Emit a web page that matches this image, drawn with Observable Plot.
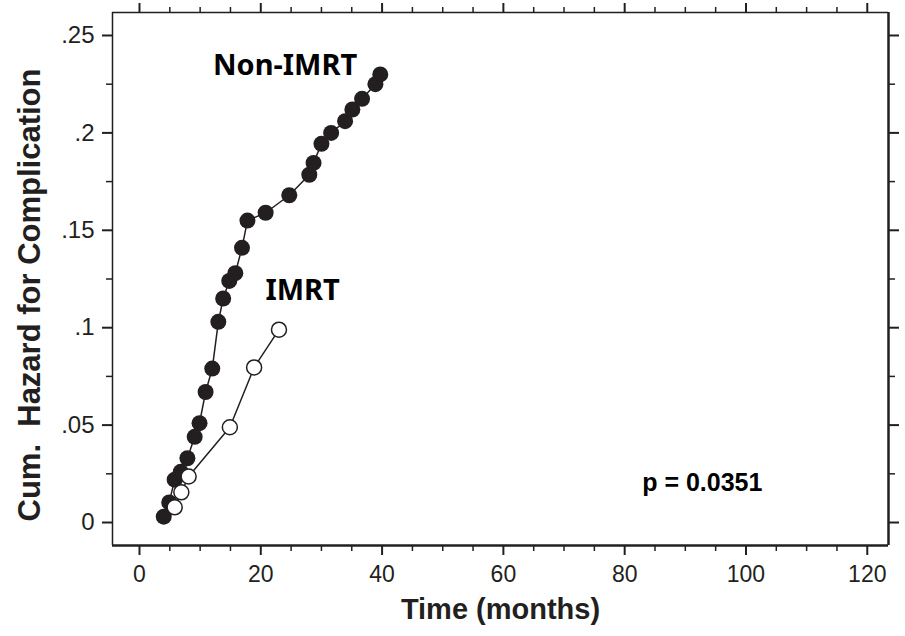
<!DOCTYPE html>
<html>
<head>
<meta charset="utf-8">
<script src="https://cdn.jsdelivr.net/npm/d3@7"></script>
<script src="https://cdn.jsdelivr.net/npm/@observablehq/plot@0.6"></script>
<style>
  body { margin: 0; background: #fff; }
  #chart svg { display: block; }
</style>
</head>
<body>
<div id="chart"></div>
<script>
// Non-IMRT group (filled circles)
const nonImrtTime   = [4.0, 4.9, 5.8, 6.8, 7.9, 9.1, 9.9, 10.9, 12.0, 13.0, 13.8, 14.8, 15.8, 16.9, 17.8, 20.8, 24.7, 28.0, 28.7, 30.0, 31.6, 33.9, 35.1, 36.7, 38.9, 39.7];
const nonImrtHazard = [0.003, 0.0103, 0.022, 0.026, 0.033, 0.044, 0.051, 0.067, 0.079, 0.103, 0.115, 0.124, 0.128, 0.141, 0.155, 0.159, 0.168, 0.1785, 0.1846, 0.1944, 0.200, 0.206, 0.212, 0.2175, 0.225, 0.230];

// IMRT group (open circles)
const imrtTime   = [5.8, 6.9, 8.1, 14.9, 18.9, 23.0];
const imrtHazard = [0.0078, 0.0155, 0.0236, 0.0489, 0.0796, 0.099];

// Axes
const xTicks = [0, 20, 40, 60, 80, 100, 120];
const xMinorTicks = [5, 10, 15, 25, 30, 35, 45, 50, 55, 65, 70, 75, 85, 90, 95, 105, 110, 115];
const yTicks = [0, 0.05, 0.1, 0.15, 0.2, 0.25];
const yTickLabels = ["0", ".05", ".1", ".15", ".2", ".25"];
const yMinorTicks = [0.025, 0.075, 0.125, 0.175, 0.225];
const xDomain = [-4.45, 123.5];
const yDomain = [-0.0118, 0.2618];

// Annotations
const annoText = ["Non-IMRT", "IMRT", "p = 0.0351"];
const annoX = [24.0, 26.9, 92.8];
const annoY = [0.2346, 0.119, 0.0205];

const nonImrt = nonImrtTime.map((t, i) => ({t, h: nonImrtHazard[i]}));
const imrt = imrtTime.map((t, i) => ({t, h: imrtHazard[i]}));
const annos = annoText.map((s, i) => ({s, x: annoX[i], y: annoY[i]}));

const ink = "#231f20";
const noLabel = () => "";

const chart = Plot.plot({
  width: 905,
  height: 636,
  marginLeft: 112,
  marginRight: 17,
  marginTop: 12,
  marginBottom: 91,
  x: {domain: xDomain},
  y: {domain: yDomain},
  style: {fontFamily: "'Liberation Sans', Arial, sans-serif", background: "#fff", color: ink},
  marks: [
    // frame
    Plot.ruleX([xDomain[0]], {stroke: ink, strokeWidth: 1.5}),
    Plot.ruleY([yDomain[1]], {stroke: ink, strokeWidth: 1.5}),
    Plot.ruleX([xDomain[1]], {stroke: ink, strokeWidth: 2.5}),
    Plot.ruleY([yDomain[0]], {stroke: ink, strokeWidth: 2.5}),
    // bottom axis
    Plot.axisX({anchor: "bottom", ticks: xTicks, tickSize: 10, tickPadding: 10, fontSize: 23, label: null, strokeWidth: 2, stroke: ink, fill: ink}),
    Plot.axisX({anchor: "bottom", ticks: xMinorTicks, tickSize: 6, tickFormat: noLabel, label: null, strokeWidth: 1.5, stroke: ink}),
    // top axis
    Plot.axisX({anchor: "top", ticks: xTicks, tickSize: 10, tickFormat: noLabel, label: null, strokeWidth: 2, stroke: ink}),
    Plot.axisX({anchor: "top", ticks: xMinorTicks, tickSize: 6, tickFormat: noLabel, label: null, strokeWidth: 1.5, stroke: ink}),
    // left axis
    Plot.axisY({anchor: "left", ticks: yTicks, tickSize: 10, tickPadding: 8, fontSize: 24, label: null,
      tickFormat: d => yTickLabels[yTicks.indexOf(d)], strokeWidth: 2, stroke: ink, fill: ink}),
    Plot.axisY({anchor: "left", ticks: yMinorTicks, tickSize: 6, tickFormat: noLabel, label: null, strokeWidth: 1.5, stroke: ink}),
    // right axis
    Plot.axisY({anchor: "right", ticks: yTicks, tickSize: 10, tickFormat: noLabel, label: null, strokeWidth: 2, stroke: ink}),
    Plot.axisY({anchor: "right", ticks: yMinorTicks, tickSize: 6, tickFormat: noLabel, label: null, strokeWidth: 1.5, stroke: ink}),
    // axis titles
    Plot.text(["Time (months)"], {frameAnchor: "bottom", dy: 73, fontSize: 29, fontWeight: "bold", fill: ink}),
    Plot.text(["Cum.  Hazard for Complication"], {frameAnchor: "left", textAnchor: "middle", dx: -82, dy: 16, rotate: -90, fontSize: 31, fontWeight: "bold", fill: ink}),
    // Non-IMRT series
    Plot.line(nonImrt, {x: "t", y: "h", stroke: ink, strokeWidth: 1.5}),
    Plot.dot(nonImrt, {x: "t", y: "h", r: 8, fill: ink, stroke: "none"}),
    // IMRT series
    Plot.line(imrt, {x: "t", y: "h", stroke: ink, strokeWidth: 1.5}),
    Plot.dot(imrt, {x: "t", y: "h", r: 7.5, fill: "#fff", stroke: ink, strokeWidth: 1.5}),
    // annotations
    Plot.text(annos.slice(0, 2), {x: "x", y: "y", text: "s", fontSize: 29, fontWeight: "bold", fill: "#000", fontFamily: "'Noto Sans', sans-serif"}),
    Plot.text(annos.slice(2), {x: "x", y: "y", text: "s", fontSize: 25, fontWeight: "bold", fill: "#000"})
  ]
});

document.getElementById("chart").appendChild(chart);
</script>
</body>
</html>
